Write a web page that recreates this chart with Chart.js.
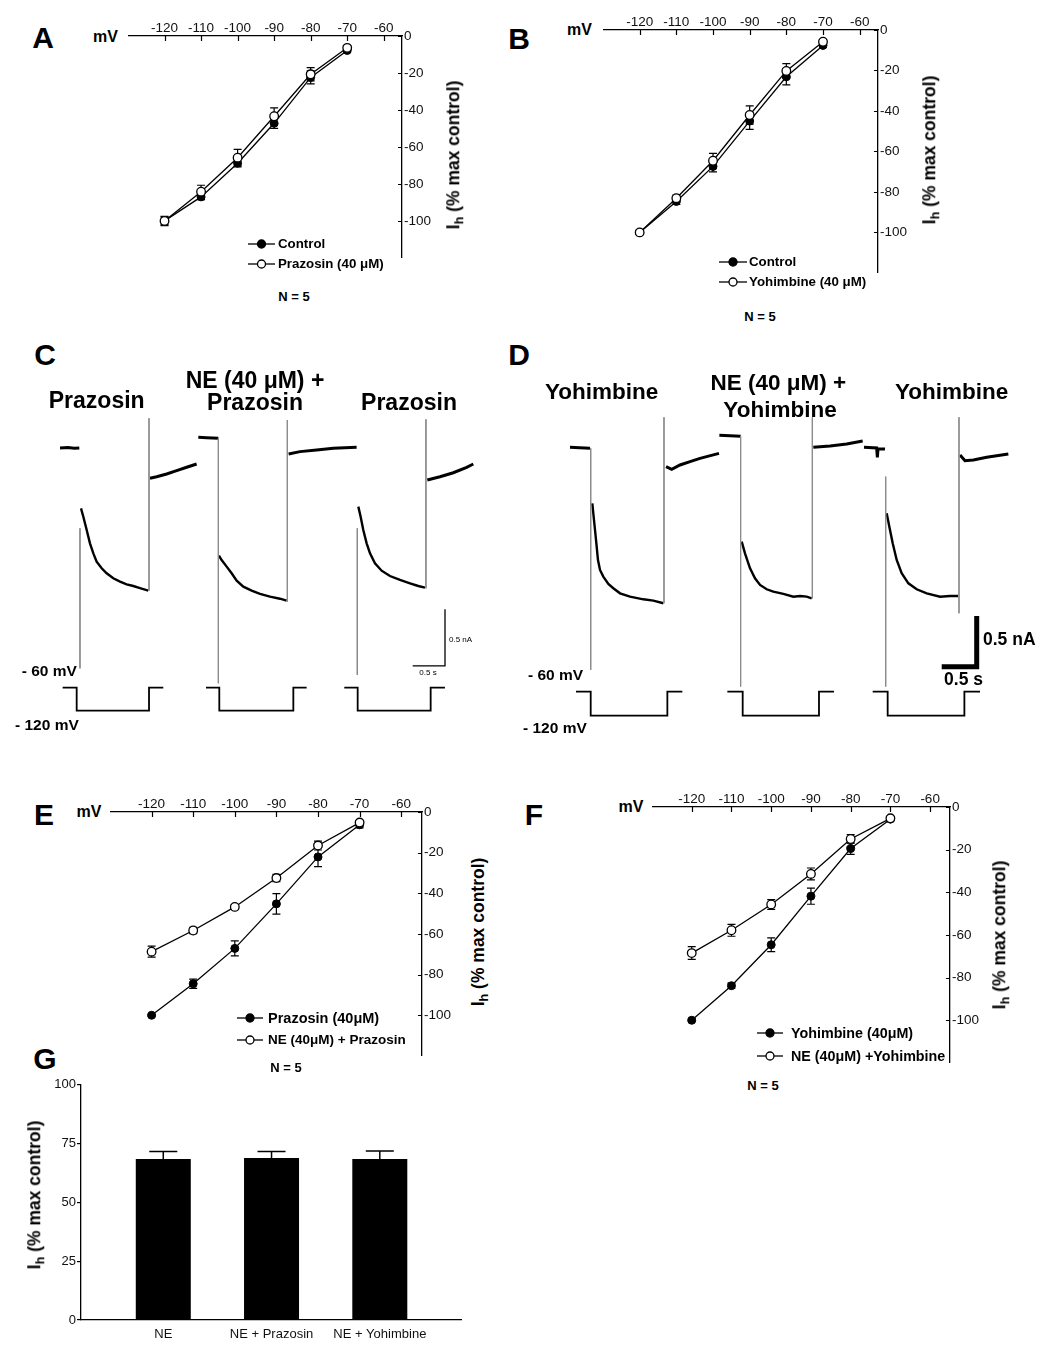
<!DOCTYPE html>
<html>
<head>
<meta charset="utf-8">
<script src="https://cdn.jsdelivr.net/npm/chart.js@4"></script>
<style>
  body { margin: 0; background: #fff; }
  #page { position: relative; width: 1050px; height: 1357px; overflow: hidden; background: #fff; font-family: "Liberation Sans", Arial, sans-serif; color: #000; }
  canvas { position: absolute; }
  .t { position: absolute; white-space: nowrap; transform: translate(-50%, -50%); line-height: 1; }
  .l { position: absolute; white-space: nowrap; transform: translateY(-50%); line-height: 1; }
  .b { font-weight: bold; }
  .yl { position: absolute; white-space: nowrap; font-weight: bold; font-size: 17.5px; line-height: 1; transform: translate(-50%, -50%) rotate(-90deg); }
  sub { font-size: 72%; vertical-align: -0.3em; line-height: 0; }
  .leg { position: absolute; transform: translateY(-50%); }
</style>
</head>
<body>
<div id="page"></div>
<script>
// ---- I-V curves (mV vs % max control) ----
const mV = [-120, -110, -100, -90, -80, -70];
const mVTicks = [-120, -110, -100, -90, -80, -70, -60];
const ivTicks = [-100, -80, -60, -40, -20, 0];

const aControl = [-100, -87, -68.8, -47.2, -22.4, -7.8];
const aControlErr = [2, 1.5, 2, 2.8, 3.5, 1];
const aPrazosin = [-100, -84.2, -65.8, -43.4, -20.7, -6.4];
const aPrazosinErr = [2.5, 3.5, 4.5, 4.5, 3.6, 1];

const bControl = [-100, -84.7, -67.4, -45, -23.1, -7.6];
const bControlErr = [1, 1.5, 2.7, 4.1, 4, 1];
const bYohimbine = [-100, -83.1, -64.6, -42, -20.2, -5.8];
const bYohimbineErr = [1, 1.5, 3.6, 4.5, 3.6, 1];

const ePrazosin = [-100, -84.5, -67.1, -45.2, -22.1, -6.3];
const ePrazosinErr = [0.5, 2.3, 3.7, 5, 4.8, 1.5];
const eNePrazosin = [-68.7, -58.3, -46.7, -32.5, -16.5, -5.2];
const eNePrazosinErr = [2.7, 1.5, 1.2, 1.8, 2.2, 1];

const fYohimbine = [-100, -83.8, -64.6, -41.8, -19.5, -5.7];
const fYohimbineErr = [0.5, 1.2, 3.2, 3.8, 2.7, 0.8];
const fNeYohimbine = [-68.5, -57.8, -45.7, -31.4, -15, -5.3];
const fNeYohimbineErr = [3, 2.8, 2.3, 2.8, 2, 0.5];

// ---- bar chart G ----
const gLabels = ["NE", "NE + Prazosin", "NE + Yohimbine"];
const gValues = [68.4, 68.9, 68.4];
const gErr = [3.2, 2.7, 3.5];
const gTicks = [0, 25, 50, 75, 100];

// ---- current traces C: [time s, current nA] ----
const cBase = [
  [[0.929, 0], [1.05, 0.004], [1.15, -0.003], [1.228, 0]],
  [[3.070, 0.094], [3.2, 0.09], [3.380, 0.085]]
];
const cStep = [
  [[1.254, -0.532], [1.290, -0.606], [1.342, -0.723], [1.393, -0.841], [1.445, -0.929], [1.496, -1.002], [1.574, -1.061], [1.651, -1.105], [1.754, -1.149], [1.858, -1.179], [1.961, -1.202], [2.064, -1.217], [2.167, -1.235], [2.296, -1.258]],
  [[3.390, -0.949], [3.431, -0.988], [3.509, -1.046], [3.586, -1.105], [3.664, -1.170], [3.767, -1.223], [3.896, -1.258], [4.025, -1.287], [4.180, -1.311], [4.334, -1.329], [4.438, -1.346]],
  [[5.547, -0.517], [5.583, -0.606], [5.624, -0.723], [5.676, -0.841], [5.728, -0.929], [5.805, -1.017], [5.908, -1.082], [6.037, -1.129], [6.192, -1.164], [6.347, -1.193], [6.476, -1.217], [6.579, -1.232]]
];
const cTail = [
  [[2.322, -0.267], [2.425, -0.253], [2.580, -0.229], [2.735, -0.200], [2.890, -0.170], [3.044, -0.141]],
  [[4.468, -0.053], [4.644, -0.032], [4.902, -0.018], [5.160, -0.003], [5.521, 0.006]],
  [[6.615, -0.282], [6.811, -0.253], [7.018, -0.218], [7.224, -0.170], [7.327, -0.141]]
];
// capacitive transients: [time, top nA, bottom nA]
const cCaps = [[1.238, -0.708, -1.943], [2.307, 0.262, -1.258], [3.380, 0.085, -2.075], [4.448, 0.247, -1.355], [5.531, -0.708, -2.002], [6.594, 0.253, -1.238]];
// voltage command (mV)
const cCommand = [
  [[0.970, -60], [1.187, -60], [1.187, -120], [2.307, -120], [2.307, -60], [2.528, -60]],
  [[3.189, -60], [3.395, -60], [3.395, -120], [4.541, -120], [4.541, -60], [4.747, -60]],
  [[5.330, -60], [5.537, -60], [5.537, -120], [6.667, -120], [6.667, -60], [6.888, -60]]
];
const cScaleBar = [[6.389, -1.922], [6.889, -1.922], [6.889, -1.422]];

// ---- current traces D ----
const dBase = [
  [[0.714, 0.007], [0.85, 0.003], [1.000, -0.003]],
  [[2.848, 0.125], [3.0, 0.12], [3.152, 0.115]],
  [[4.914, 0.007], [5.095, 0.0], [5.105, -0.092], [5.114, -0.007], [5.214, -0.010]]
];
const dStep = [
  [[1.033, -0.546], [1.057, -0.711], [1.086, -0.908], [1.114, -1.106], [1.143, -1.204], [1.190, -1.270], [1.262, -1.343], [1.333, -1.385], [1.429, -1.435], [1.571, -1.468], [1.762, -1.494], [1.905, -1.507], [2.048, -1.533]],
  [[3.167, -0.925], [3.214, -1.040], [3.286, -1.188], [3.357, -1.287], [3.429, -1.352], [3.524, -1.395], [3.619, -1.418], [3.762, -1.441], [3.905, -1.468], [4.000, -1.461], [4.095, -1.468], [4.167, -1.484]],
  [[5.238, -0.645], [5.276, -0.777], [5.324, -0.941], [5.381, -1.106], [5.452, -1.237], [5.548, -1.336], [5.667, -1.395], [5.810, -1.435], [6.000, -1.468], [6.143, -1.461], [6.262, -1.461]]
];
const dTail = [
  [[2.086, -0.184], [2.167, -0.211], [2.286, -0.168], [2.429, -0.135], [2.571, -0.102], [2.843, -0.053]],
  [[4.190, 0.007], [4.429, 0.020], [4.667, 0.039], [4.895, 0.069]],
  [[6.286, -0.069], [6.357, -0.125], [6.476, -0.118], [6.667, -0.092], [6.857, -0.072], [6.976, -0.059]]
];
const dCaps = [[1.010, -0.003, -2.191], [2.057, 0.303, -1.533], [3.152, 0.115, -2.356], [4.176, 0.303, -1.484], [5.224, -0.283, -2.356], [6.271, 0.303, -1.632]];
const dCommand = [
  [[0.800, -60], [1.010, -60], [1.010, -120], [2.105, -120], [2.105, -60], [2.319, -60]],
  [[2.962, -60], [3.181, -60], [3.181, -120], [4.271, -120], [4.271, -60], [4.486, -60]],
  [[5.038, -60], [5.252, -60], [5.252, -120], [6.348, -120], [6.348, -60], [6.571, -60]]
];
const dScaleBar = [[6.024, -2.159], [6.524, -2.159], [6.524, -1.658]];

Chart.defaults.font.family = '"Liberation Sans", Arial, sans-serif';
Chart.defaults.color = '#111';

const page = document.getElementById('page');

function addCanvas(left, top, w, h) {
  const c = document.createElement('canvas');
  c.width = w; c.height = h;
  c.style.left = left + 'px'; c.style.top = top + 'px';
  c.style.width = w + 'px'; c.style.height = h + 'px';
  page.appendChild(c);
  return c.getContext('2d');
}

function addText(html, x, y, cls, size) {
  const d = document.createElement('div');
  d.className = cls;
  d.style.left = x + 'px'; d.style.top = y + 'px';
  if (size) d.style.fontSize = size + 'px';
  d.innerHTML = html;
  page.appendChild(d);
}

function addLegend(x, y, w, filled, label, tx, size) {
  const s = document.createElement('div');
  s.className = 'leg';
  s.style.left = x + 'px'; s.style.top = y + 'px';
  s.innerHTML = '<svg width="' + w + '" height="12" style="display:block"><line x1="0" y1="6" x2="' + w + '" y2="6" stroke="#000" stroke-width="1.3"/>' +
    '<circle cx="' + (w / 2) + '" cy="6" r="4" fill="' + (filled ? '#000' : '#fff') + '" stroke="#000" stroke-width="1.3"/></svg>';
  page.appendChild(s);
  addText(label, tx, y, 'l b', size);
}

// error bars drawn under the points
const errorBars = {
  id: 'errorBars',
  beforeDatasetsDraw(chart) {
    const ctx = chart.ctx, ys = chart.scales.y;
    ctx.save();
    ctx.strokeStyle = '#000';
    ctx.lineWidth = 1.2;
    chart.data.datasets.forEach((ds, i) => {
      if (!ds.errors) return;
      chart.getDatasetMeta(i).data.forEach((pt, j) => {
        const v = ds.data[j].y, e = ds.errors[j];
        const t = ys.getPixelForValue(v + e), b = ys.getPixelForValue(v - e);
        ctx.beginPath();
        ctx.moveTo(pt.x, t); ctx.lineTo(pt.x, b);
        ctx.moveTo(pt.x - 4, t); ctx.lineTo(pt.x + 4, t);
        ctx.moveTo(pt.x - 4, b); ctx.lineTo(pt.x + 4, b);
        ctx.stroke();
      });
    });
    ctx.restore();
  }
};

// tick marks pointing into the plot
const inwardTicks = {
  id: 'inwardTicks',
  afterDraw(chart) {
    const { ctx, chartArea: a } = chart;
    const xs = chart.scales.x, ys = chart.scales.y;
    ctx.save();
    ctx.strokeStyle = '#000';
    ctx.lineWidth = 1.2;
    ctx.beginPath();
    xs.ticks.forEach(t => {
      const px = Math.round(xs.getPixelForValue(t.value)) + 0.5;
      ctx.moveTo(px, a.top); ctx.lineTo(px, a.top + 5);
    });
    ys.ticks.forEach(t => {
      const py = Math.round(ys.getPixelForValue(t.value)) + 0.5;
      ctx.moveTo(a.right - 4, py); ctx.lineTo(a.right, py);
    });
    ctx.stroke();
    ctx.restore();
  }
};

function ivChart(box, openVals, openErr, closedVals, closedErr) {
  const ctx = addCanvas(box[0], box[1], box[2], box[3]);
  return new Chart(ctx, {
    type: 'scatter',
    data: {
      datasets: [
        { data: mV.map((x, i) => ({ x, y: openVals[i] })), errors: openErr, showLine: true,
          borderColor: '#000', borderWidth: 1.3, pointRadius: 4.3, pointBackgroundColor: '#fff',
          pointBorderColor: '#000', pointBorderWidth: 1.3, clip: false },
        { data: mV.map((x, i) => ({ x, y: closedVals[i] })), errors: closedErr, showLine: true,
          borderColor: '#000', borderWidth: 1.3, pointRadius: 4, pointBackgroundColor: '#000',
          pointBorderColor: '#000', pointBorderWidth: 1, clip: false }
      ]
    },
    options: {
      responsive: false, animation: false,
      layout: { padding: 0, autoPadding: false },
      plugins: { legend: { display: false }, tooltip: { enabled: false } },
      scales: {
        x: {
          type: 'linear', position: 'top', min: -130, max: -55,
          grid: { display: false, drawTicks: false },
          border: { display: true, color: '#000', width: 1.3 },
          ticks: { padding: 0, maxRotation: 0, autoSkip: false, font: { size: 13.5 } },
          afterBuildTicks: s => { s.ticks = mVTicks.map(v => ({ value: v })); },
          afterFit: s => { s.height = 22; }
        },
        y: {
          type: 'linear', position: 'right', min: -120, max: 0,
          grid: { display: false, drawTicks: false },
          border: { display: true, color: '#000', width: 1.3 },
          ticks: { padding: 2, autoSkip: false, font: { size: 13.5 } },
          afterBuildTicks: s => { s.ticks = ivTicks.map(v => ({ value: v })); },
          afterFit: s => { s.width = 44; }
        }
      }
    },
    plugins: [errorBars, inwardTicks]
  });
}

function traceChart(box, xMax, yMin, yMax, vMin, vMax, base, step, tail, caps, command, bar, barWidth) {
  const ctx = addCanvas(box[0], box[1], box[2], box[3]);
  const pts = seg => seg.map(p => ({ x: p[0], y: p[1] }));
  const datasets = [];
  caps.forEach(c => datasets.push({ data: [{ x: c[0], y: c[1] }, { x: c[0], y: c[2] }], borderColor: '#8c8c8c', borderWidth: 1 }));
  base.concat(tail).forEach(s => datasets.push({ data: pts(s), borderColor: '#000', borderWidth: 3 }));
  step.forEach(s => datasets.push({ data: pts(s), borderColor: '#000', borderWidth: 2.4 }));
  command.forEach(s => datasets.push({ data: pts(s), borderColor: '#000', borderWidth: 1.8, yAxisID: 'y2' }));
  datasets.push({ data: pts(bar), borderColor: '#000', borderWidth: barWidth, borderJoinStyle: 'miter', borderCapStyle: 'butt' });
  datasets.forEach(d => { d.showLine = true; d.pointRadius = 0; d.tension = 0; d.clip = false; });
  return new Chart(ctx, {
    type: 'scatter',
    data: { datasets },
    options: {
      responsive: false, animation: false,
      layout: { padding: 0, autoPadding: false },
      plugins: { legend: { display: false }, tooltip: { enabled: false } },
      scales: {
        x: { type: 'linear', display: false, min: 0, max: xMax },
        y: { type: 'linear', display: false, min: yMin, max: yMax },
        y2: { type: 'linear', display: false, min: vMin, max: vMax }
      }
    }
  });
}

// ---- panels A, B, E, F ----
ivChart([128, 14, 318, 254], aPrazosin, aPrazosinErr, aControl, aControlErr);
ivChart([603, 8, 319, 275], bYohimbine, bYohimbineErr, bControl, bControlErr);
ivChart([110, 790, 356, 276], eNePrazosin, eNePrazosinErr, ePrazosin, ePrazosinErr);
ivChart([652, 785, 342, 288], fNeYohimbine, fNeYohimbineErr, fYohimbine, fYohimbineErr);

// ---- panels C, D ----
traceChart([0, 410, 520, 330], 8.050, -2.575, 0.335, -196.4, 664.5, cBase, cStep, cTail, cCaps, cCommand, cScaleBar, 1.3);
traceChart([520, 410, 530, 330], 7.571, -2.883, 0.375, -180.75, 644.25, dBase, dStep, dTail, dCaps, dCommand, dScaleBar, 5);

// ---- panel G ----
const barErr = {
  id: 'barErr',
  afterDatasetsDraw(chart) {
    const ctx = chart.ctx, ys = chart.scales.y;
    ctx.save();
    ctx.strokeStyle = '#000';
    ctx.lineWidth = 1.5;
    chart.getDatasetMeta(0).data.forEach((bar, j) => {
      const top = ys.getPixelForValue(gValues[j] + gErr[j]);
      ctx.beginPath();
      ctx.moveTo(bar.x, bar.y); ctx.lineTo(bar.x, top);
      ctx.moveTo(bar.x - 14, top); ctx.lineTo(bar.x + 14, top);
      ctx.stroke();
    });
    ctx.restore();
  }
};
new Chart(addCanvas(41, 1076, 425, 274), {
  type: 'bar',
  data: {
    datasets: [{ data: gValues.map((v, i) => ({ x: i, y: v })), backgroundColor: '#000', borderWidth: 0,
      barPercentage: 0.508, categoryPercentage: 1 }]
  },
  options: {
    responsive: false, animation: false,
    layout: { padding: { top: 8, right: 5, left: 0, bottom: 0 }, autoPadding: false },
    plugins: { legend: { display: false }, tooltip: { enabled: false } },
    scales: {
      x: {
        type: 'linear', min: -0.76, max: 2.75, offset: false,
        grid: { display: false, drawTicks: false },
        border: { display: true, color: '#000', width: 1.3 },
        ticks: { padding: 7, maxRotation: 0, autoSkip: false, font: { size: 13 }, callback: v => gLabels[v] },
        afterBuildTicks: s => { s.ticks = gLabels.map((l, i) => ({ value: i })); },
        afterFit: s => { s.height = 30; }
      },
      y: {
        min: 0, max: 100,
        grid: { display: true, drawOnChartArea: false, drawTicks: true, tickLength: 4, color: '#000', lineWidth: 1.2 },
        border: { display: true, color: '#000', width: 1.3 },
        ticks: { padding: 1, font: { size: 13 } },
        afterBuildTicks: s => { s.ticks = gTicks.map(v => ({ value: v })); },
        afterFit: s => { s.width = 40; }
      }
    }
  },
  plugins: [barErr]
});

// ---- text ----
[['A', 43, 38], ['B', 519, 39], ['C', 45, 355], ['D', 519, 355], ['E', 44, 815], ['F', 534, 815], ['G', 45, 1059]]
  .forEach(p => addText(p[0], p[1], p[2], 't b', 30));
[[105.5, 37], [579.5, 30], [89, 812], [631, 807]].forEach(p => addText('mV', p[0], p[1], 't b', 16));
[[294, 296], [760, 316], [286, 1067], [763, 1085]].forEach(p => addText('N = 5', p[0], p[1], 't b', 13));
[[454, 155], [930, 150], [479, 932], [1000, 935], [35, 1195]].forEach(p => addText('I<sub>h</sub> (% max control)', p[0], p[1], 'yl'));

addLegend(248, 244, 27, true, 'Control', 278, 13.3);
addLegend(248, 264, 27, false, 'Prazosin (40 &mu;M)', 278, 13.3);
addLegend(719, 262, 28, true, 'Control', 749, 13.3);
addLegend(719, 281.7, 28, false, 'Yohimbine (40 &mu;M)', 749, 13.3);
addLegend(237, 1018, 26, true, 'Prazosin (40&mu;M)', 268, 14.5);
addLegend(237, 1040, 26, false, 'NE (40&mu;M) + Prazosin', 268, 13.5);
addLegend(757, 1032.7, 26, true, 'Yohimbine (40&mu;M)', 791, 14.3);
addLegend(757, 1056, 26, false, 'NE (40&mu;M) +Yohimbine', 791, 14.3);

addText('Prazosin', 96.7, 400, 't b', 23);
addText('NE (40 &mu;M) +', 255, 380, 't b', 23);
addText('Prazosin', 255, 401.7, 't b', 23);
addText('Prazosin', 409, 401.7, 't b', 23);
addText('Yohimbine', 601.7, 391.7, 't b', 22.5);
addText('NE (40 &mu;M) +', 778.3, 383.3, 't b', 22.5);
addText('Yohimbine', 780, 410, 't b', 22.5);
addText('Yohimbine', 951.7, 391.7, 't b', 22.5);

addText('- 60 mV', 21.7, 670.7, 'l b', 15.5);
addText('- 120 mV', 15, 725, 'l b', 15.5);
addText('- 60 mV', 528, 675, 'l b', 15.5);
addText('- 120 mV', 523, 728, 'l b', 15.5);
addText('0.5 nA', 449, 640, 'l', 8);
addText('0.5 s', 428, 673, 't', 8);
addText('0.5 nA', 983, 640, 'l b', 17.5);
addText('0.5 s', 963.5, 680, 't b', 17.5);
</script>
</body>
</html>
